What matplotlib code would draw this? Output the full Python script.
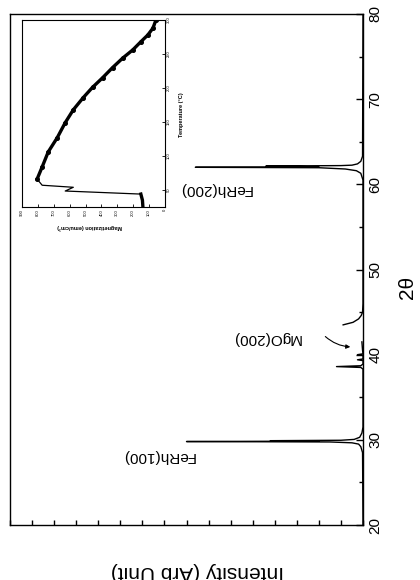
import numpy as np
import matplotlib
matplotlib.use('Agg')
import matplotlib.pyplot as plt
from matplotlib.ticker import MultipleLocator

plt.rcParams['font.family'] = ['Liberation Sans', 'DejaVu Sans']

# XRD pattern (2theta in degrees, intensity in arb. units), NaN = gap in trace
two_theta = [20, 28.5, 29.2, 29.5, 29.65, 29.75, 29.8, 29.85, 29.9, 29.95, 30.05, 30.3, 30.8, 31.5,
             38.3, 38.5, 38.6, 38.7, 38.9, 39.3, 39.4, 39.5, 39.9, 40.0, 40.1, 40.5, 41.5, np.nan,
             43.5, 43.8, 44.2, 44.6, 45.0, 46,
             60.5, 61.3, 61.6, 61.8, 61.95, 62.0, 62.05, 62.15, 62.2, 62.25, 62.4, 62.7, 63.3, 80]
intensity = [0, 0.02, 0.1, 0.2, 0.5, 1.5, 8.0, 2.0, 4.2, 1.0, 0.4, 0.15, 0.05, 0,
             0, 0.1, 1.2, 0.1, 0, 0, 0.25, 0, 0, 0.25, 0, 0.02, 0.05, np.nan,
             0.9, 0.45, 0.2, 0.08, 0.02, 0,
             0, 0.1, 0.3, 0.8, 2.0, 7.6, 2.0, 4.4, 1.0, 0.5, 0.25, 0.1, 0.02, 0]

peak_labels = ['FeRh(100)', 'MgO(200)', 'FeRh(200)']
peak_label_pos = [(9.3, 28.1), (4.4, 42.0), (6.7, 59.5)]

# inset: magnetization vs temperature (heating run)
temperature = [25, 35, 44, 48.5, 54, 57, 66, 84, 106, 127, 149, 168, 186, 201,
               215, 230, 244, 256, 268, 278, 288, 300]
magnetization = [139, 142, 152, 628, 577, 773, 805, 773, 735, 678, 628, 577, 514, 456,
                 393, 330, 266, 203, 152, 108, 76, 57]

tt_ticks = [20, 30, 40, 50, 60, 70, 80]
temp_ticks = [50, 100, 150, 200, 250, 300]
mag_ticks = [0, 100, 200, 300, 400, 500, 600, 700, 800, 900]

W, H = 420, 580
fig = plt.figure(figsize=(W / 100, H / 100), dpi=100)

# main axes, drawn rotated: intensity runs right->left, 2theta runs bottom->top
ax = fig.add_axes([10 / W, 1 - 525 / H, 353 / W, 511 / H])
ax.plot(intensity, two_theta, color='black', lw=1.0)
ax.set_xlim(16, 0)
ax.set_ylim(20, 80)
ax.yaxis.tick_right()
ax.set_yticks(tt_ticks)
ax.set_yticklabels([str(t) for t in tt_ticks], rotation=90, va='center', fontsize=11)
ax.yaxis.set_minor_locator(MultipleLocator(5))
ax.xaxis.set_major_locator(MultipleLocator(1))
ax.set_xticklabels([])
ax.tick_params(axis='y', which='major', direction='in', length=5, width=1, pad=4)
ax.tick_params(axis='y', which='minor', direction='in', length=3, width=1)
ax.tick_params(axis='x', which='major', direction='in', length=3.5, width=1)
for sp in ax.spines.values():
    sp.set_linewidth(1.0)

for lab, (xi, yi) in zip(peak_labels, peak_label_pos):
    ax.text(xi, yi, lab, rotation=180, ha='center', va='center', fontsize=11)
ax.annotate('', xy=(0.45, 40.9), xytext=(1.8, 42.35),
            arrowprops=dict(arrowstyle='-|>', color='black', lw=0.8,
                            connectionstyle='arc3,rad=0.2', mutation_scale=6))

fig.text(197 / W, 1 - 571 / H, 'Intensity (Arb Unit)', rotation=180,
         ha='center', va='center', fontsize=15)
fig.text(408 / W, 1 - 287 / H, '2θ', rotation=90, ha='center', va='center', fontsize=15)

# inset
axin = fig.add_axes([22 / W, 1 - 207 / H, 143 / W, 187 / H])
axin.plot(magnetization, temperature, color='black', lw=0.9)
# densely sampled parts of the run show as a thick dotted trace
axin.plot(magnetization[:3], temperature[:3], color='black', lw=2.4)
axin.plot(magnetization[6:], temperature[6:], color='black', lw=2.4,
          marker='o', ms=2.6)
axin.set_xlim(900, 0)
axin.set_ylim(25, 300)
axin.yaxis.tick_right()
axin.set_yticks(temp_ticks)
axin.set_yticklabels([str(t) for t in temp_ticks], rotation=90, va='center', fontsize=3)
axin.set_xticks(mag_ticks)
axin.set_xticklabels([str(m) for m in mag_ticks], rotation=90, ha='center', fontsize=3)
axin.tick_params(direction='in', length=2, width=0.6, pad=1.5)
for sp in axin.spines.values():
    sp.set_linewidth(0.8)
fig.text(90 / W, 1 - 227 / H, 'Magnetization (emu/cm³)', rotation=180,
         ha='center', va='center', fontsize=4, fontweight='bold')
fig.text(181 / W, 1 - 115 / H, 'Temperature (°C)', rotation=90,
         ha='center', va='center', fontsize=4, fontweight='bold')

fig.savefig('out.png', dpi=100)
